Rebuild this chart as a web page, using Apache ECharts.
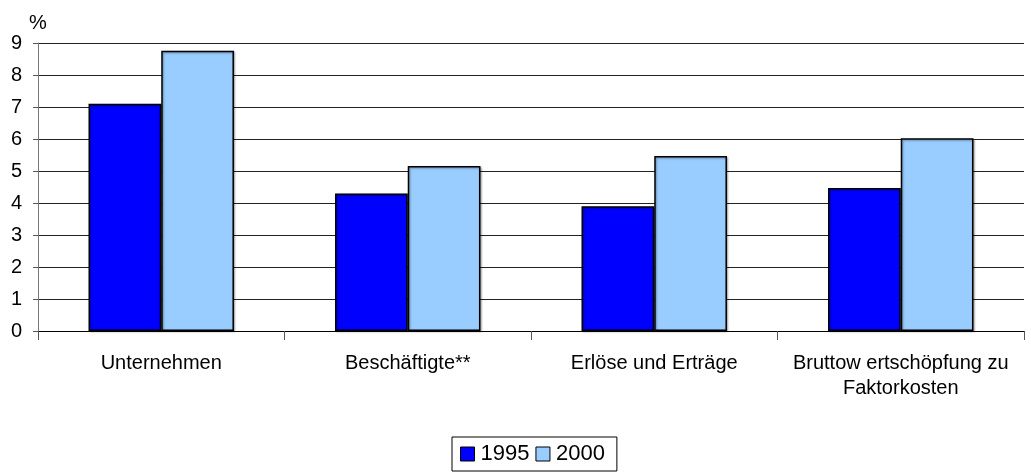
<!DOCTYPE html>
<html>
<head>
<meta charset="utf-8">
<script src="https://cdn.jsdelivr.net/npm/echarts@6/dist/echarts.min.js"></script>
<style>
  html, body { margin: 0; padding: 0; background: #fff; }
  #chart { width: 1031px; height: 475px; }
</style>
</head>
<body>
<div id="chart"></div>
<script>
// data
const categories = ['Unternehmen', 'Beschäftigte**', 'Erlöse und Erträge', 'Bruttow ertschöpfung zu\nFaktorkosten'];
const seriesNames = ['1995', '2000'];
const values1995 = [7.1, 4.3, 3.9, 4.47];
const values2000 = [8.76, 5.16, 5.47, 6.02];
const yTicks = [0, 1, 2, 3, 4, 5, 6, 7, 8, 9];

const FONT = '"Liberation Sans", Arial, sans-serif';
const FS = 20;
const colors = ['#0000ff', '#99ccff'];

const chart = echarts.init(document.getElementById('chart'), null, { renderer: 'canvas' });

function barSeries (name, data, color) {
    return {
        name: name,
        type: 'bar',
        data: data,
        barGap: '0%',
        barCategoryGap: '41%',
        itemStyle: {
            color: color,
            borderColor: '#000',
            borderWidth: 1.5,
            shadowColor: 'rgba(0,0,0,0.35)',
            shadowBlur: 2,
            shadowOffsetX: 1,
            shadowOffsetY: 1
        },
        emphasis: { disabled: true },
        animation: false
    };
}

chart.setOption({
    animation: false,
    textStyle: { fontFamily: FONT },
    grid: { left: 38, right: 7, top: 43, bottom: 144, containLabel: false },
    legend: {
        data: seriesNames,
        top: 437,
        left: 452,
        itemWidth: 14,
        itemHeight: 14,
        itemGap: 6,
        padding: [6, 12, 6, 8],
        borderColor: '#000',
        borderWidth: 1,
        borderRadius: 0,
        icon: 'rect',
        textStyle: { fontFamily: FONT, fontSize: 22, color: '#000', padding: [0, 0, 0, 1] },
        itemStyle: { borderColor: '#000', borderWidth: 1 }
    },
    xAxis: {
        type: 'category',
        data: categories,
        axisLine: { lineStyle: { color: '#000', width: 1 } },
        axisTick: { show: true, length: 9, lineStyle: { color: '#555' } },
        axisLabel: {
            fontFamily: FONT, fontSize: FS, color: '#000',
            margin: 20, lineHeight: 25, interval: 0, align: 'center'
        },
        splitLine: { show: false }
    },
    yAxis: {
        type: 'value',
        min: yTicks[0],
        max: yTicks[yTicks.length - 1],
        interval: 1,
        name: '%',
        nameLocation: 'end',
        nameGap: 10,
        nameTextStyle: { fontFamily: FONT, fontSize: FS, color: '#000', align: 'center' },
        axisLine: { show: true, lineStyle: { color: '#777', width: 1 } },
        axisTick: { show: true, length: 5, lineStyle: { color: '#555' } },
        axisLabel: { fontFamily: FONT, fontSize: FS, color: '#000', margin: 16 },
        splitLine: { show: true, lineStyle: { color: '#222', width: 1 } }
    },
    series: [
        barSeries(seriesNames[0], values1995, colors[0]),
        barSeries(seriesNames[1], values2000, colors[1])
    ]
});
</script>
</body>
</html>
